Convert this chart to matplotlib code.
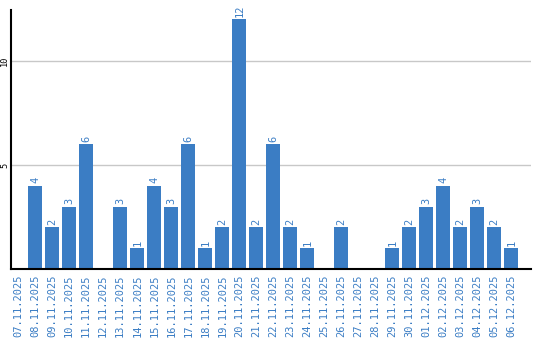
import matplotlib
matplotlib.use("Agg")
import matplotlib.pyplot as plt

dates = ["07.11.2025","08.11.2025","09.11.2025","10.11.2025","11.11.2025","12.11.2025",
         "13.11.2025","14.11.2025","15.11.2025","16.11.2025","17.11.2025","18.11.2025",
         "19.11.2025","20.11.2025","21.11.2025","22.11.2025","23.11.2025","24.11.2025",
         "25.11.2025","26.11.2025","27.11.2025","28.11.2025","29.11.2025","30.11.2025",
         "01.12.2025","02.12.2025","03.12.2025","04.12.2025","05.12.2025","06.12.2025"]
values = [0,4,2,3,6,0,3,1,4,3,6,1,2,12,2,6,2,1,0,2,0,0,1,2,3,4,2,3,2,1]
yticks = [5, 10]

blue = "#3b7dc4"
fig = plt.figure(figsize=(5.4, 3.4), dpi=100)
ax = fig.add_axes([10.5/540, 71/340, (531-10.5)/540, 259/340])
x = list(range(len(dates)))
ax.bar(x, values, width=0.82, color=blue, zorder=2)
for xi, v in zip(x, values):
    if v > 0:
        ax.text(xi, v + 0.12, str(v), rotation=90, ha="center", va="bottom",
                color=blue, fontsize=7.5, family="DejaVu Sans Mono")
ax.set_xlim(-0.45, 30.15)
ax.set_ylim(0, 12.45)
ax.set_xticks(x)
ax.set_xticklabels(dates, rotation=90, color=blue, fontsize=7.5, family="DejaVu Sans Mono")
ax.tick_params(axis="x", length=0, pad=4)
ax.set_yticks(yticks)
ax.set_yticklabels([str(t) for t in yticks], rotation=90, fontsize=6.2,
                   family="DejaVu Sans Mono", va="center")
ax.tick_params(axis="y", length=0, pad=0.8)
ax.grid(axis="y", color="#c8c8c8", linewidth=1, zorder=0)
ax.spines["top"].set_visible(False)
ax.spines["right"].set_visible(False)
ax.spines["left"].set_linewidth(1.5)
ax.spines["bottom"].set_linewidth(1.5)
fig.savefig("out.png", dpi=100)
